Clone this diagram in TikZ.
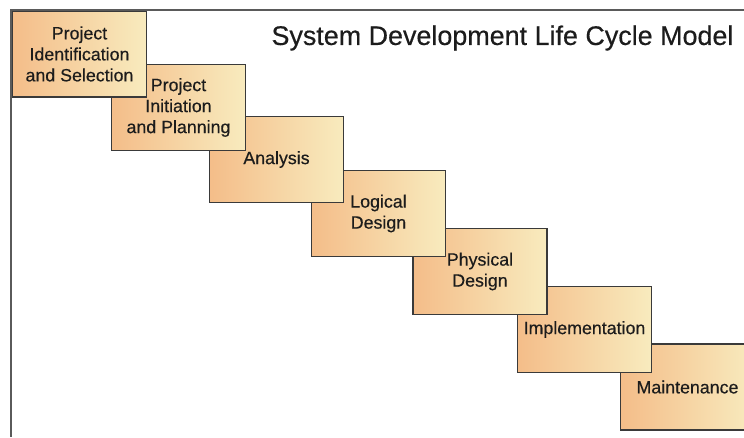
\documentclass[tikz,border=0pt]{standalone}
\usepackage{fontspec}
\setmainfont{Liberation Sans}[FakeBold=0.4]
\begin{document}
\definecolor{stepleft}{HTML}{F4BD89}
\definecolor{stepright}{HTML}{F8EBBE}
\definecolor{stepedge}{HTML}{3A3A3A}
\definecolor{frameline}{HTML}{5A5A5A}
\definecolor{textdark}{HTML}{1C1C1C}
\tikzset{
  phase/.style={draw=stepedge, line width=1.4pt, left color=stepleft, right color=stepright,
    minimum width=134pt, minimum height=86pt, inner sep=0pt, align=center,
    text=textdark, font=\fontsize{17.8}{21}\selectfont},
  heading/.style={text=textdark, font=\fontsize{26.9}{30}\selectfont, inner sep=0pt}
}
\begin{tikzpicture}[x=1pt, y=-1pt]
\useasboundingbox (0,0) rectangle (744,437);
\fill[white] (0,0) rectangle (744,437);
\begin{scope}
\clip (0,0) rectangle (744,437);
% phases drawn from the last one up, so each earlier step lies on top
\node[phase] (maint) at (687.5,387) {Maintenance};
\node[phase] (impl)  at (584.5,329.5) {Implementation};
\node[phase] (phys)  at (480,271.5) {Physical\\Design};
\node[phase] (logic) at (378.5,213.5) {Logical\\Design};
\node[phase] (anal)  at (276.5,159.5) {Analysis};
\node[phase] (init)  at (178.5,107.5) {Project\\Initiation\\and Planning};
\node[phase] (ident) at (79.5,54) {Project\\Identification\\and Selection};
\end{scope}
% frame along the top and left
\coordinate (corner) at (11,10);
\coordinate (topend) at (744,10);
\coordinate (leftend) at (11,437);
\draw[frameline, line width=1.5pt] (topend) -- (corner) -- (leftend);
\node[heading] (title) at (502.5,38) {System Development Life Cycle Model};
\end{tikzpicture}
\end{document}
